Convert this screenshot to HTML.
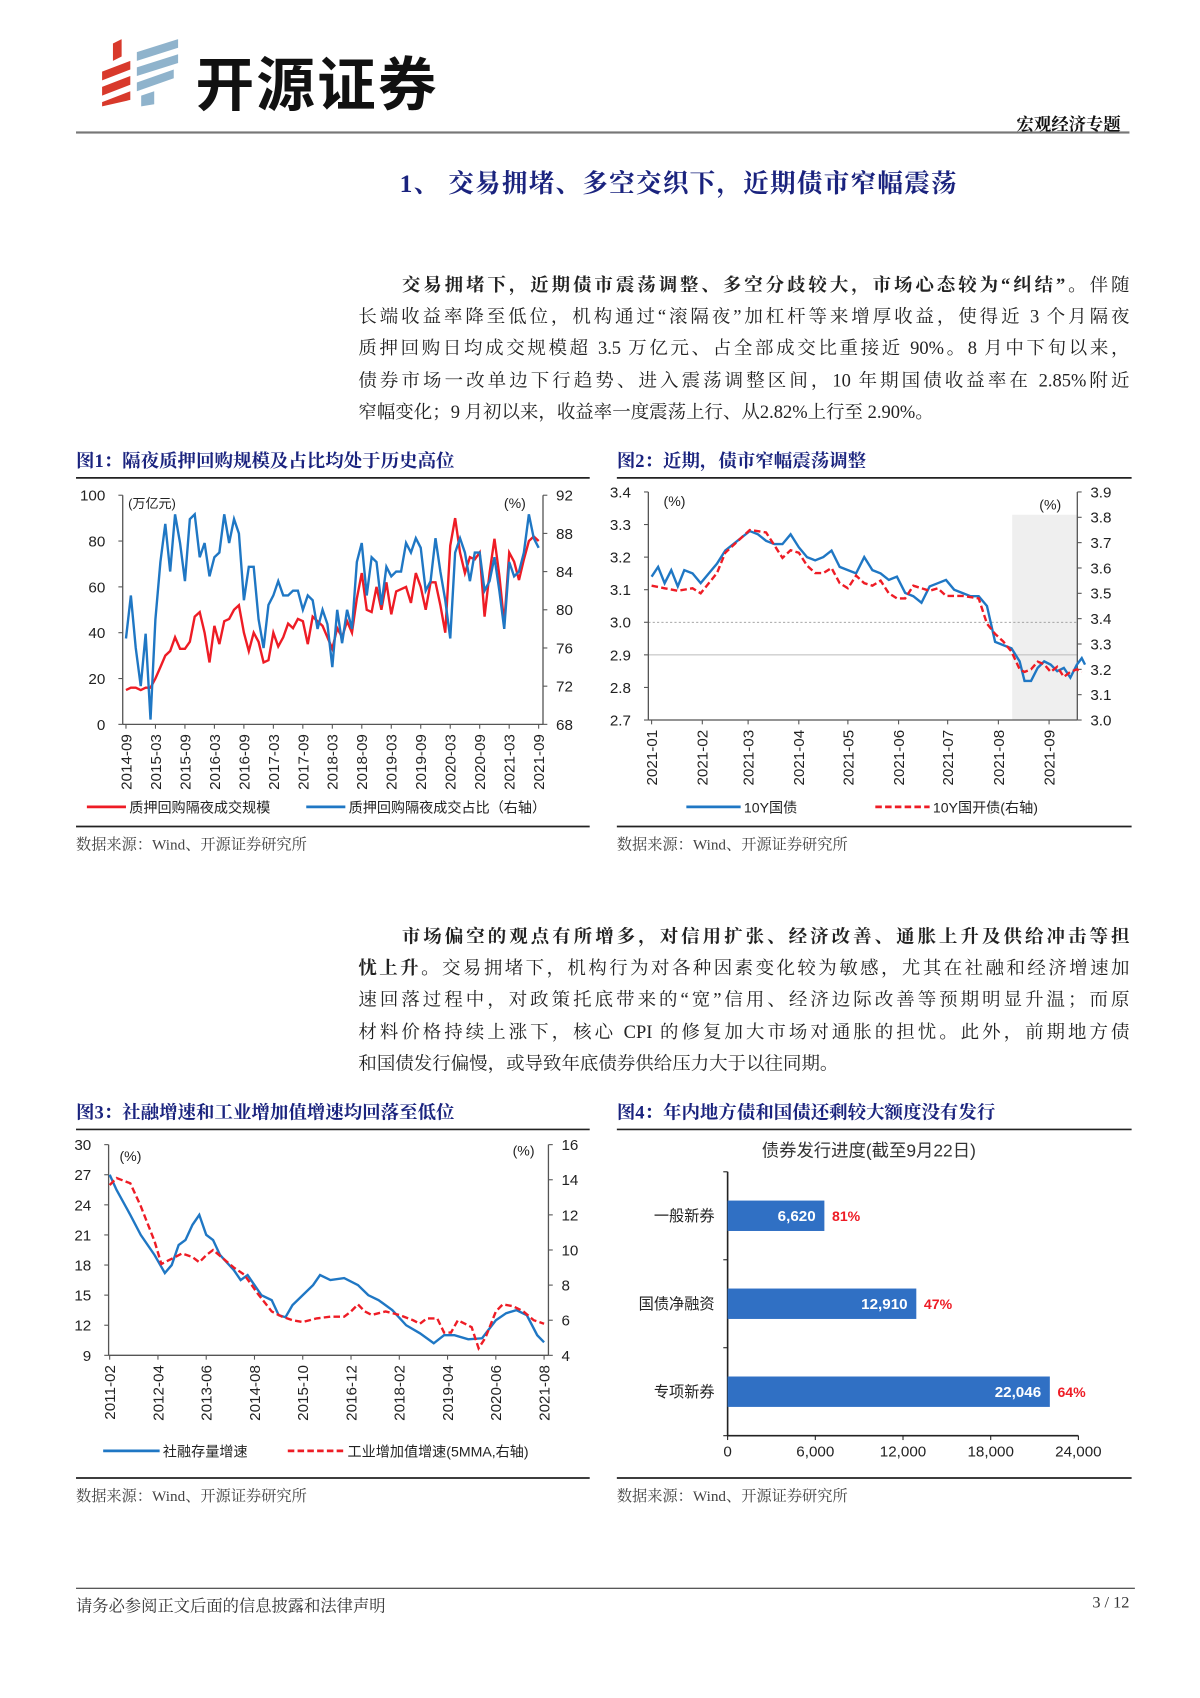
<!DOCTYPE html>
<html><head><meta charset="utf-8">
<style>
html,body{margin:0;padding:0;background:#fff;}
body{width:1200px;height:1698px;overflow:hidden;position:relative;}
#wrap{position:absolute;left:0;top:0;width:1105px;height:1563px;transform:scale(1.086);transform-origin:0 0;font-family:"Liberation Serif","Noto Serif CJK SC",serif;}
.abs{position:absolute;white-space:nowrap;}
.para{position:absolute;left:330px;width:710px;font-size:17px;line-height:29.2px;color:#222;text-align:justify;text-align-last:justify;}
.para .l{display:block;height:29.2px;}
.cap{position:absolute;font-size:17px;font-weight:bold;color:#1a237e;font-family:"Liberation Serif","Noto Serif CJK SC",serif;}
.src{position:absolute;font-size:14px;color:#444;}
svg text{font-family:"Liberation Sans","Noto Sans CJK SC",sans-serif;}
</style></head><body>
<div id="wrap">
<svg class="abs" style="left:90px;top:36px" width="80" height="64">
 <polygon points="4,30 30,20 30,28 4,38" fill="#d8392b"/>
 <polygon points="4,44 30,34 30,42 4,52" fill="#d8392b"/>
 <polygon points="4,58 30,48 30,56 4,62" fill="#d8392b"/>
 <polygon points="14,4 22,0 22,16 14,20" fill="#d8392b"/>
 <polygon points="36,12 74,0 74,8 36,20" fill="#8fb3cc"/>
 <polygon points="36,26 74,14 74,22 36,34" fill="#8fb3cc"/>
 <polygon points="36,40 70,28 70,36 36,48" fill="#8fb3cc"/>
 <polygon points="40,52 52,48 52,60 40,62" fill="#8fb3cc"/>
</svg>
<div class="abs" style="left:180px;top:34px;font-size:54px;font-weight:bold;font-family:'Liberation Sans','Noto Sans CJK SC',sans-serif;color:#111;letter-spacing:2px">开源证券</div>
<div class="abs" style="right:73px;top:102px;font-size:16px;font-weight:bold;color:#111">宏观经济专题</div>
<div class="abs" style="left:70px;top:121px;width:970px;height:2px;background:#777"></div>
<div class="abs" style="left:368px;top:150px;font-size:23.5px;letter-spacing:1.2px;font-weight:bold;color:#1a237e">1、 交易拥堵、多空交织下，近期债市窄幅震荡</div>

<div class="para" style="top:248px">
<span class="l" style="padding-left:40px"><b>交易拥堵下，近期债市震荡调整、多空分歧较大，市场心态较为“纠结”。</b>伴随</span>
<span class="l">长端收益率降至低位，机构通过“滚隔夜”加杠杆等来增厚收益，使得近 3 个月隔夜</span>
<span class="l">质押回购日均成交规模超 3.5 万亿元、占全部成交比重接近 90%。8 月中下旬以来，</span>
<span class="l">债券市场一改单边下行趋势、进入震荡调整区间，10 年期国债收益率在 2.85%附近</span>
<span class="l" style="text-align-last:left">窄幅变化；9 月初以来，收益率一度震荡上行、从2.82%上行至 2.90%。</span>
</div>

<div class="para" style="top:848px">
<span class="l" style="padding-left:40px"><b>市场偏空的观点有所增多，对信用扩张、经济改善、通胀上升及供给冲击等担</b></span>
<span class="l"><b>忧上升。</b>交易拥堵下，机构行为对各种因素变化较为敏感，尤其在社融和经济增速加</span>
<span class="l">速回落过程中，对政策托底带来的“宽”信用、经济边际改善等预期明显升温；而原</span>
<span class="l">材料价格持续上涨下，核心 CPI 的修复加大市场对通胀的担忧。此外，前期地方债</span>
<span class="l" style="text-align-last:left">和国债发行偏慢，或导致年底债券供给压力大于以往同期。</span>
</div>

<div class="cap" style="left:70px;top:410px">图1：隔夜质押回购规模及占比均处于历史高位</div>
<div class="cap" style="left:568px;top:410px">图2：近期，债市窄幅震荡调整</div>
<div class="cap" style="left:70px;top:1010px">图3：社融增速和工业增加值增速均回落至低位</div>
<div class="cap" style="left:568px;top:1010px">图4：年内地方债和国债还剩较大额度没有发行</div>
<div class="src" style="left:70px;top:767px">数据来源：Wind、开源证券研究所</div>
<div class="src" style="left:568px;top:767px">数据来源：Wind、开源证券研究所</div>
<div class="src" style="left:70px;top:1367px">数据来源：Wind、开源证券研究所</div>
<div class="src" style="left:568px;top:1367px">数据来源：Wind、开源证券研究所</div>

<div class="abs" style="left:70px;top:1462px;width:975px;height:1px;background:#333"></div>
<div class="abs" style="left:70px;top:1468px;font-size:15px;color:#333">请务必参阅正文后面的信息披露和法律声明</div>
<div class="abs" style="right:65px;top:1468px;font-size:15px;color:#333">3 / 12</div>

<svg id="c" class="abs" style="left:0;top:0" width="1105" height="1563"></svg>
</div>
<script>
// ---- Figure 1 data (monthly, 2014-09 .. 2021-09)
const f1Ticks = ["2014-09","2015-03","2015-09","2016-03","2016-09","2017-03","2017-09","2018-03","2018-09","2019-03","2019-09","2020-03","2020-09","2021-03","2021-09"];
const f1Volume = [15,16,16,15,16,16,20,25,30,32,38,33,33,36,47,49,40,27,43,35,45,46,50,52,40,32,40,36,27,28,40,34,38,44,42,46,45,35,47,45,43,38,33,42,38,45,40,55,66,50,49,60,50,62,48,58,59,60,53,66,60,50,62,62,52,40,78,90,75,66,73,72,75,47,66,81,65,44,75,71,63,72,80,82,80];
const f1Share = [77,81.5,76,72,77.5,68.5,79,85,89,84,90,87,83,89.5,90,85.5,87,83.5,85.5,86,90,87,89.5,88,81,84.5,84.5,79,76,80.5,81.5,83,81.5,81.5,82,82,80,81.5,81,78,80,78.5,74,80,76.5,80,78,85,87,81.5,85.5,85,80.5,84.5,83.5,84,84,87,86,87.5,86.5,82,83,87.5,84,81,77,86,87.5,86,83,86,86,82,83,85.5,82,78,85,83.5,84,86,90,87.5,86.5];
const f1LeftTicks = [0,20,40,60,80,100];
const f1RightTicks = [68,72,76,80,84,88,92];
// ---- Figure 2 data (day of year 2021, yields)
const f2Months = ["2021-01","2021-02","2021-03","2021-04","2021-05","2021-06","2021-07","2021-08","2021-09"];
const f2MonthDays = [0,31,59,90,120,151,181,212,243];
const f2GovDays = [0,4,8,12,16,20,25,30,35,40,45,50,55,60,65,70,75,80,85,90,95,100,105,110,115,120,125,130,135,140,145,150,155,160,165,170,175,180,185,190,195,200,205,210,215,220,225,228,232,236,240,244,248,252,256,260,263,265];
const f2Gov = [3.14,3.17,3.12,3.16,3.11,3.16,3.15,3.12,3.15,3.18,3.22,3.24,3.26,3.28,3.27,3.25,3.24,3.24,3.27,3.23,3.20,3.19,3.20,3.22,3.17,3.16,3.15,3.20,3.16,3.15,3.13,3.14,3.09,3.08,3.06,3.11,3.12,3.13,3.10,3.09,3.08,3.08,3.05,2.94,2.93,2.92,2.88,2.82,2.82,2.86,2.88,2.87,2.85,2.86,2.83,2.87,2.89,2.87];
const f2CdbDays = [0,8,16,25,30,40,45,55,60,70,75,80,85,90,95,100,105,110,115,120,125,130,135,140,145,150,155,160,165,170,175,180,190,200,205,210,215,220,225,228,232,236,240,244,248,252,256,260,263];
const f2Cdb = [3.53,3.52,3.51,3.52,3.50,3.58,3.66,3.72,3.75,3.74,3.69,3.64,3.67,3.66,3.61,3.58,3.58,3.60,3.54,3.52,3.57,3.54,3.53,3.55,3.50,3.48,3.48,3.53,3.52,3.51,3.52,3.49,3.49,3.48,3.38,3.34,3.31,3.27,3.20,3.19,3.20,3.23,3.22,3.19,3.21,3.17,3.19,3.20,3.19];
const f2LeftTicks = [2.7,2.8,2.9,3.0,3.1,3.2,3.3,3.4];
const f2RightTicks = [3.0,3.1,3.2,3.3,3.4,3.5,3.6,3.7,3.8,3.9];
// ---- Figure 3 data (month index from 2011-02)
const f3Ticks = ["2011-02","2012-04","2013-06","2014-08","2015-10","2016-12","2018-02","2019-04","2020-06","2021-08"];
const f3TsfIdx = [0,2,6,9,13,16,18,20,22,24,26,28,30,32,36,38,40,44,47,49,51,53,56,59,61,64,68,72,75,78,82,86,90,94,97,100,104,108,112,115,118,121,124,126];
const f3Tsf = [27,25.5,23,21,19,17.2,18,20,20.5,22,23,21,20.5,19,17.5,16.5,17,15,14.5,13,12.8,14,15,16,17,16.5,16.7,16,15,14.5,13.5,12,11.2,10.2,11,11,10.6,10.7,12.5,13.2,13.5,13,11,10.3];
const f3IvaIdx = [0,2,6,9,13,15,18,21,24,26,28,30,33,36,39,43,47,50,53,56,60,64,68,70,72,74,76,80,84,88,90,92,95,97,99,101,103,105,107,109,112,114,117,120,123,126];
const f3Iva = [13.7,14.1,13.8,12.5,10.5,9.2,9.5,9.8,9.6,9.3,9.7,10,9.5,9,8.6,7.5,6.5,6.2,6,5.9,6.1,6.2,6.2,6.5,6.9,6.5,6.3,6.5,6.3,6,5.8,6.1,6.1,5.3,5.3,6,5.8,5.6,4.4,5,6.5,6.9,6.8,6.5,6,5.8];
const f3LeftTicks = [9,12,15,18,21,24,27,30];
const f3RightTicks = [4,6,8,10,12,14,16];
// ---- Figure 4 data
const f4Cats = ["一般新券","国债净融资","专项新券"];
const f4Values = [6620,12910,22046];
const f4Pct = ["81%","47%","64%"];
const f4Ticks = [0,6000,12000,18000,24000];

const NS="http://www.w3.org/2000/svg";
const svg=document.getElementById('c');
function mk(tag,attrs,parent){const e=document.createElementNS(NS,tag);for(const k in attrs)e.setAttribute(k,attrs[k]);(parent||svg).appendChild(e);return e;}
function txt(s,attrs,parent){const e=mk('text',attrs,parent);e.textContent=s;return e;}
function lin(d0,d1,r0,r1){return v=>r0+(v-d0)/(d1-d0)*(r1-r0);}
function pathD(xs,ys){return xs.map((x,i)=>(i?'L':'M')+x.toFixed(1)+','+ys[i].toFixed(1)).join('');}
const BLUE='#1f77c4', RED='#ee1c25';

[[70,440,543],[568,440,1042],[70,761,543],[568,761,1042],[70,1040,543],[568,1040,1042],[70,1361,543],[568,1361,1042]].forEach(r=>{
  const l=mk('line',{x1:r[0],x2:r[2],y1:r[1],y2:r[1],stroke:'#222','stroke-width':1.6});
  
  
});

function axisSet(g,xl,xr,yt,yb,lt,ly,rt,ry,fmtL,fmtR){
  mk('line',{x1:xl,x2:xl,y1:yt,y2:yb,stroke:'#555','stroke-width':1.2},g);
  mk('line',{x1:xr,x2:xr,y1:yt,y2:yb,stroke:'#555','stroke-width':1.2},g);
  mk('line',{x1:xl,x2:xr,y1:yb,y2:yb,stroke:'#555','stroke-width':1.2},g);
  lt.forEach(v=>{const y=ly(v);mk('line',{x1:xl-4,x2:xl,y1:y,y2:y,stroke:'#555'},g);
    const t=txt(fmtL(v),{x:xl-16,y:y+5,'text-anchor':'end','font-size':14,fill:'#222'},g);
    });
  rt.forEach(v=>{const y=ry(v);mk('line',{x1:xr,x2:xr+4,y1:y,y2:y,stroke:'#555'},g);
    const t=txt(fmtR(v),{x:xr+12,y:y+5,'font-size':14,fill:'#222'},g);
    });
}
function xLabels(g,labels,xs,yb){
  labels.forEach((s,i)=>{const x=xs[i];mk('line',{x1:x,x2:x,y1:yb,y2:yb+4,stroke:'#555'},g);
    const t=txt(s,{x:0,y:0,'font-size':14,fill:'#222','text-anchor':'end',transform:`translate(${x+5},${yb+9}) rotate(-90)`},g);
    });
}
function legendItem(g,x,y,color,dash,label,len){
  const l=mk('line',{x1:x,x2:x+len,y1:y,y2:y,stroke:color,'stroke-width':2.6,'stroke-dasharray':dash||'none'},g);
  
  const t=txt(label,{x:x+len+3,y:y+5,'font-size':13,fill:'#222'},g);
  
}

// ===== Figure 1
(function(){
  const g=mk('g',{});
  const xl=113,xr=500,yt=456,yb=667;
  const ly=lin(0,100,yb,yt), ry=lin(68,92,yb,yt), x=lin(0,84,116,496);
  axisSet(g,xl,xr,yt,yb,f1LeftTicks,ly,f1RightTicks,ry,v=>v,v=>v);
  xLabels(g,f1Ticks,f1Ticks.map((_,i)=>x(i*6)),yb);
  txt('(万亿元)',{x:118,y:468,'font-size':12,fill:'#222'},g);
  txt('(%)',{x:464,y:468,'font-size':13,fill:'#222'},g);
  const r=mk('path',{d:pathD(f1Volume.map((_,i)=>x(i)),f1Volume.map(ly)),fill:'none',stroke:RED,'stroke-width':2.2},g);
  
  const b=mk('path',{d:pathD(f1Share.map((_,i)=>x(i)),f1Share.map(ry)),fill:'none',stroke:BLUE,'stroke-width':2.2},g);
  
  legendItem(g,80,743,RED,null,'质押回购隔夜成交规模',36);
  legendItem(g,282,743,BLUE,null,'质押回购隔夜成交占比（右轴）',36);
})();

// ===== Figure 2
(function(){
  const g=mk('g',{});
  const xl=597,xr=992,yt=453,yb=663;
  const ly=lin(2.7,3.4,yb,yt), ry=lin(3.0,3.9,yb,yt), x=lin(0,243,600,966);
  const sh=mk('rect',{x:932,y:474,width:xr-932,height:yb-474,fill:'#efefef'},g);
  
  mk('line',{x1:xl,x2:xr,y1:ly(3.0),y2:ly(3.0),stroke:'#999','stroke-dasharray':'2,2','stroke-width':0.8},g);
  mk('line',{x1:xl,x2:xr,y1:ly(2.9),y2:ly(2.9),stroke:'#bbb','stroke-width':1},g);
  axisSet(g,xl,xr,yt,yb,f2LeftTicks,ly,f2RightTicks,ry,v=>v.toFixed(1),v=>v.toFixed(1));
  xLabels(g,f2Months,f2MonthDays.map(x),yb);
  txt('(%)',{x:611,y:466,'font-size':13,fill:'#222'},g);
  txt('(%)',{x:957,y:469,'font-size':13,fill:'#222'},g);
  const b=mk('path',{d:pathD(f2GovDays.map(x),f2Gov.map(ly)),fill:'none',stroke:BLUE,'stroke-width':2.2},g);
  
  const r=mk('path',{d:pathD(f2CdbDays.map(x),f2Cdb.map(ry)),fill:'none',stroke:RED,'stroke-width':2.2,'stroke-dasharray':'6,3'},g);
  
  legendItem(g,632,743,BLUE,null,'10Y国债',50);
  legendItem(g,806,743,RED,'6,3','10Y国开债(右轴)',50);
})();

// ===== Figure 3
(function(){
  const g=mk('g',{});
  const xl=100,xr=505,yt=1054,yb=1248;
  const ly=lin(9,30,yb,yt), ry=lin(4,16,yb,yt), x=lin(0,126,101,501);
  axisSet(g,xl,xr,yt,yb,f3LeftTicks,ly,f3RightTicks,ry,v=>v,v=>v);
  xLabels(g,f3Ticks,f3Ticks.map((_,i)=>x(i*14)),yb);
  txt('(%)',{x:110,y:1069,'font-size':13,fill:'#222'},g);
  txt('(%)',{x:472,y:1064,'font-size':13,fill:'#222'},g);
  const b=mk('path',{d:pathD(f3TsfIdx.map(x),f3Tsf.map(ly)),fill:'none',stroke:BLUE,'stroke-width':2.2},g);
  
  const r=mk('path',{d:pathD(f3IvaIdx.map(x),f3Iva.map(ry)),fill:'none',stroke:RED,'stroke-width':2.2,'stroke-dasharray':'6,3'},g);
  
  legendItem(g,95,1336,BLUE,null,'社融存量增速',52);
  legendItem(g,265,1336,RED,'6,3','工业增加值增速(5MMA,右轴)',52);
})();

// ===== Figure 4
(function(){
  const g=mk('g',{});
  const xl=670,yt=1079,yb=1322;
  const x=lin(0,24000,670,993);
  const t0=txt('债券发行进度(截至9月22日)',{x:800,y:1065,'text-anchor':'middle','font-size':16,fill:'#333'},g);
  
  mk('line',{x1:xl,x2:xl,y1:yt,y2:yb,stroke:'#222','stroke-width':1.5},g);
  mk('line',{x1:xl,x2:993,y1:yb,y2:yb,stroke:'#222','stroke-width':1.5},g);
  const band=(yb-yt)/f4Cats.length;
  [0,1,2,3].forEach(i=>mk('line',{x1:xl-4,x2:xl,y1:yt+i*band,y2:yt+i*band,stroke:'#222'},g));
  f4Ticks.forEach(v=>{mk('line',{x1:x(v),x2:x(v),y1:yb,y2:yb+4,stroke:'#222'},g);
    const t=txt(v.toLocaleString('en-US'),{x:x(v),y:yb+19,'text-anchor':'middle','font-size':14,fill:'#222'},g);
    });
  f4Cats.forEach((c,i)=>{
    const cy=yt+band*(i+0.5), h=28;
    const r=mk('rect',{x:xl,y:cy-h/2,width:x(f4Values[i])-xl,height:h,fill:'#3070c4'},g);
    
    const v=txt(f4Values[i].toLocaleString('en-US'),{x:x(f4Values[i])-8,y:cy+5,'text-anchor':'end','font-size':14,'font-weight':'bold',fill:'#fff'},g);
    
    const p=txt(f4Pct[i],{x:x(f4Values[i])+7,y:cy+5,'font-size':13,'font-weight':'bold',fill:RED},g);
    
    const l=txt(c,{x:xl-12,y:cy+5,'text-anchor':'end','font-size':14,fill:'#222'},g);
    
  });
})();
</script>
</body></html>
